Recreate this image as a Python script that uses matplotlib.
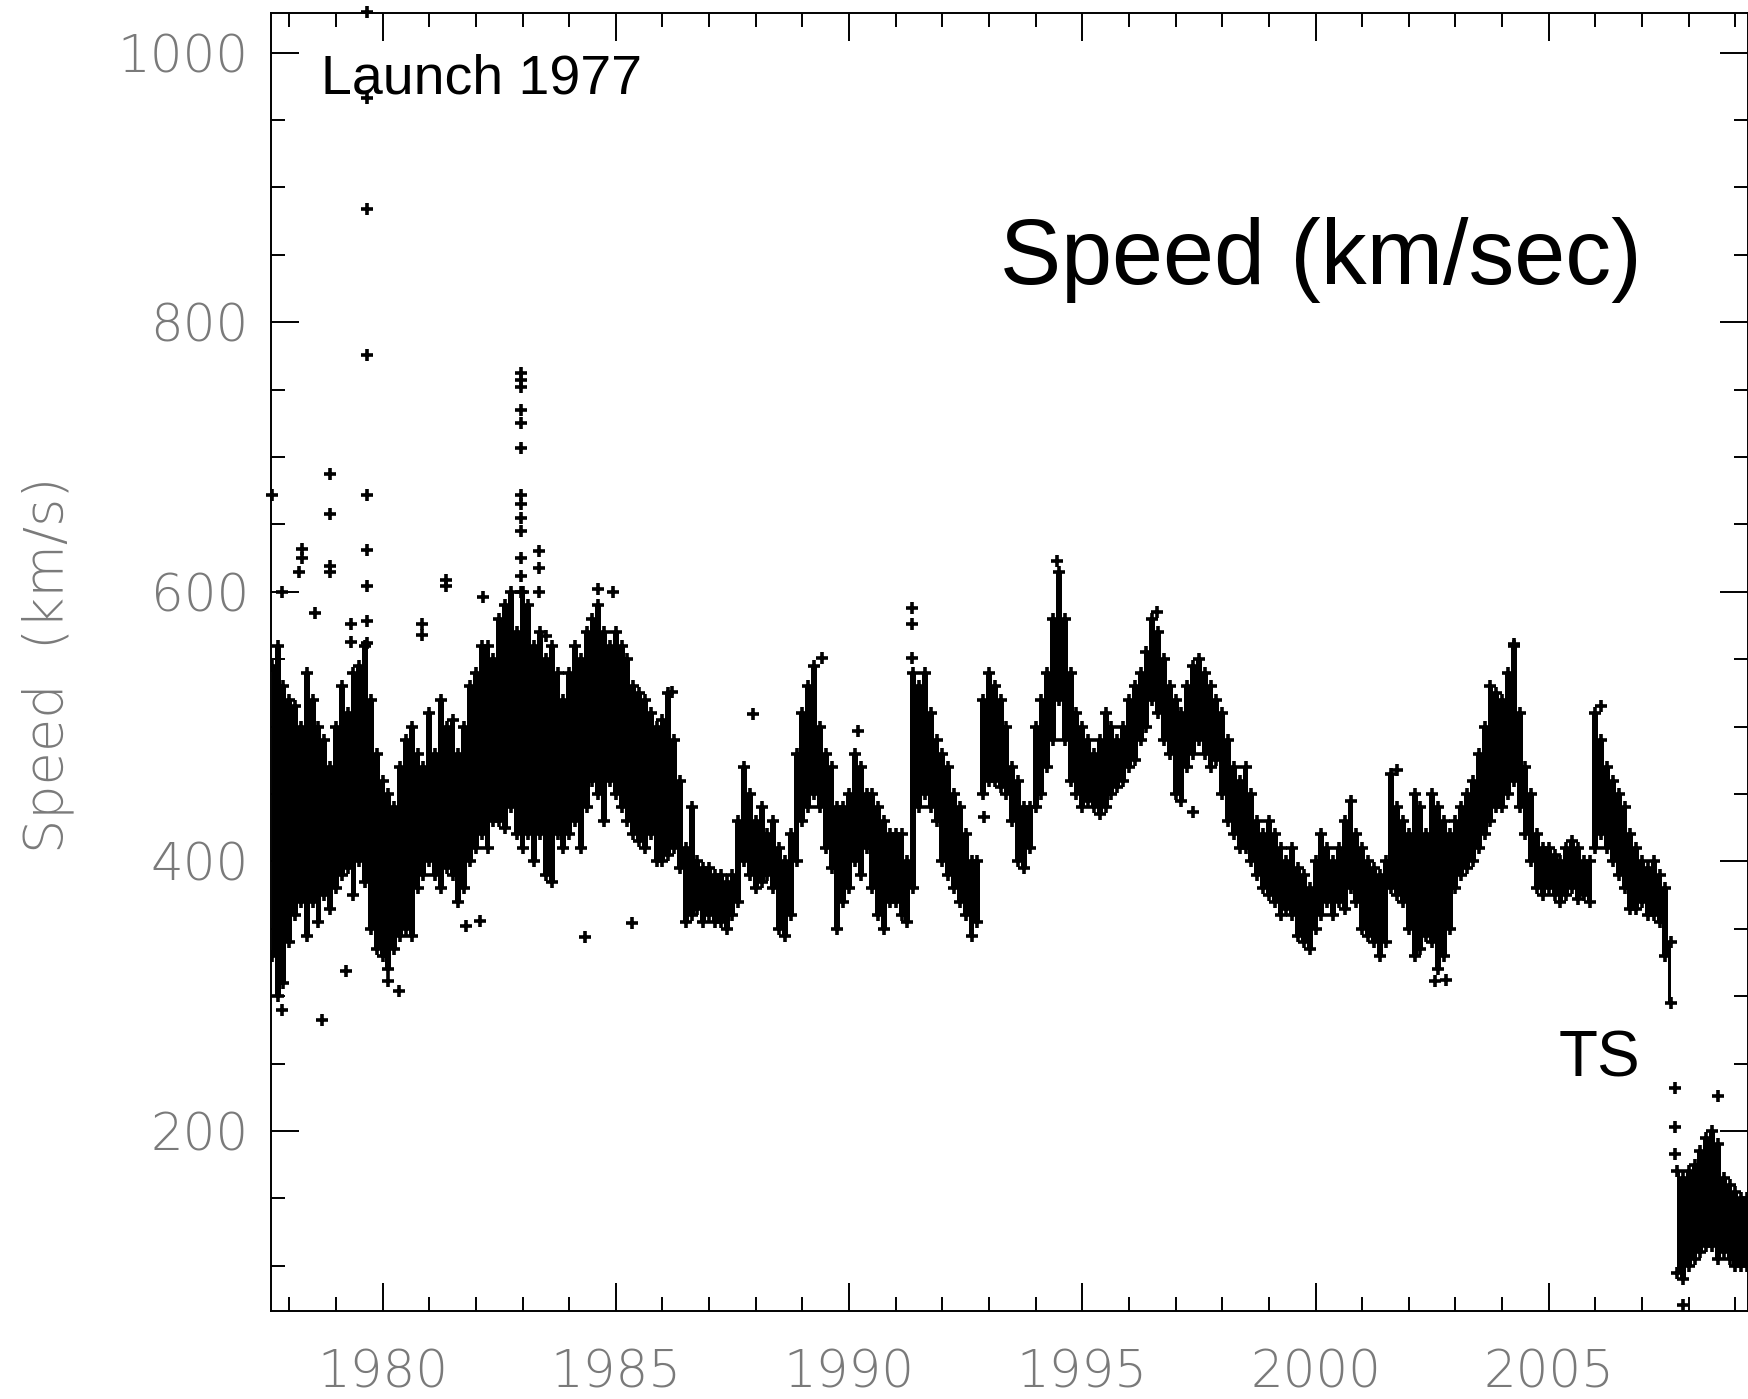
# plot.py
# Recreates the Voyager 2 solar wind speed chart (1977 to 2009) as a dense black band of plus marks.

# Import matplotlib for plotting without a display.
import matplotlib
matplotlib.use("Agg")
import matplotlib.pyplot as plt
from matplotlib.ticker import MultipleLocator

# Bin centres (years) of the speed band before the termination shock.
pre_years = [
    1977.625, 1977.75, 1977.875,
    1978.0, 1978.125, 1978.25, 1978.375, 1978.5, 1978.625, 1978.75, 1978.875,
    1979.0, 1979.125, 1979.25, 1979.375, 1979.5, 1979.625, 1979.75, 1979.875,
    1980.0, 1980.125, 1980.25, 1980.375, 1980.5, 1980.625, 1980.75, 1980.875,
    1981.0, 1981.125, 1981.25, 1981.375, 1981.5, 1981.625, 1981.75, 1981.875,
    1982.0, 1982.125, 1982.25, 1982.375, 1982.5, 1982.625, 1982.75, 1982.875,
    1983.0, 1983.125, 1983.25, 1983.375, 1983.5, 1983.625, 1983.75, 1983.875,
    1984.0, 1984.125, 1984.25, 1984.375, 1984.5, 1984.625, 1984.75, 1984.875,
    1985.0, 1985.125, 1985.25, 1985.375, 1985.5, 1985.625, 1985.75, 1985.875,
    1986.0, 1986.125, 1986.25, 1986.375, 1986.5, 1986.625, 1986.75, 1986.875,
    1987.0, 1987.125, 1987.25, 1987.375, 1987.5, 1987.625, 1987.75, 1987.875,
    1988.0, 1988.125, 1988.25, 1988.375, 1988.5, 1988.625, 1988.75, 1988.875,
    1989.0, 1989.125, 1989.25, 1989.375, 1989.5, 1989.625, 1989.75, 1989.875,
    1990.0, 1990.125, 1990.25, 1990.375, 1990.5, 1990.625, 1990.75, 1990.875,
    1991.0, 1991.125, 1991.25, 1991.375, 1991.5, 1991.625, 1991.75, 1991.875,
    1992.0, 1992.125, 1992.25, 1992.375, 1992.5, 1992.625, 1992.75, 1992.875,
    1993.0, 1993.125, 1993.25, 1993.375, 1993.5, 1993.625, 1993.75, 1993.875,
    1994.0, 1994.125, 1994.25, 1994.375, 1994.5, 1994.625, 1994.75, 1994.875,
    1995.0, 1995.125, 1995.25, 1995.375, 1995.5, 1995.625, 1995.75, 1995.875,
    1996.0, 1996.125, 1996.25, 1996.375, 1996.5, 1996.625, 1996.75, 1996.875,
    1997.0, 1997.125, 1997.25, 1997.375, 1997.5, 1997.625, 1997.75, 1997.875,
    1998.0, 1998.125, 1998.25, 1998.375, 1998.5, 1998.625, 1998.75, 1998.875,
    1999.0, 1999.125, 1999.25, 1999.375, 1999.5, 1999.625, 1999.75, 1999.875,
    2000.0, 2000.125, 2000.25, 2000.375, 2000.5, 2000.625, 2000.75, 2000.875,
    2001.0, 2001.125, 2001.25, 2001.375, 2001.5, 2001.625, 2001.75, 2001.875,
    2002.0, 2002.125, 2002.25, 2002.375, 2002.5, 2002.625, 2002.75, 2002.875,
    2003.0, 2003.125, 2003.25, 2003.375, 2003.5, 2003.625, 2003.75, 2003.875,
    2004.0, 2004.125, 2004.25, 2004.375, 2004.5, 2004.625, 2004.75, 2004.875,
    2005.0, 2005.125, 2005.25, 2005.375, 2005.5, 2005.625, 2005.75, 2005.875,
    2006.0, 2006.125, 2006.25, 2006.375, 2006.5, 2006.625, 2006.75, 2006.875,
    2007.0, 2007.125, 2007.25, 2007.375, 2007.5, 2007.625,
]

# Upper edge of the dense band (km/s) for each pre-shock bin.
pre_hi = [
    545, 560, 530,
    520, 515, 500, 540, 520, 500, 490, 470,
    500, 530, 510, 540, 545, 560, 520, 480,
    460, 450, 440, 470, 490, 500, 480, 470,
    510, 480, 520, 500, 505, 480, 500, 530,
    540, 560, 560, 550, 580, 590, 600, 570,
    600, 590, 560, 570, 550, 560, 540, 520,
    540, 560, 550, 570, 580, 590, 570, 560,
    570, 560, 550, 530, 525, 520, 510, 500,
    505, 525, 490, 460, 410, 440, 400, 395,
    395, 390, 390, 385, 390, 430, 470, 450,
    430, 440, 420, 430, 410, 400, 420, 480,
    510, 530, 545, 500, 480, 470, 440, 440,
    450, 480, 470, 450, 450, 440, 430, 420,
    420, 420, 400, 540, 530, 540, 510, 490,
    480, 470, 450, 440, 420, 400, 400, 520,
    540, 530, 520, 500, 470, 460, 440, 440,
    500, 520, 540, 580, 615, 580, 540, 510,
    500, 490, 480, 490, 510, 500, 490, 500,
    520, 530, 540, 555, 580, 570, 550, 530,
    520, 510, 530, 545, 550, 540, 530, 520,
    510, 490, 470, 460, 470, 450, 430, 420,
    430, 420, 410, 400, 410, 395, 390, 380,
    400, 420, 410, 400, 410, 430, 445, 420,
    410, 400, 395, 390, 400, 465, 440, 430,
    420, 450, 440, 420, 450, 440, 430, 420,
    430, 440, 450, 460, 480, 500, 530, 525,
    520, 540, 560, 510, 470, 450, 420, 410,
    410, 405, 400, 410, 415, 410, 400, 400,
    510, 490, 470, 460, 450, 440, 420, 410,
    400, 395, 400, 390, 380, 340,
]

# Lower edge of the dense band (km/s) for each pre-shock bin.
pre_lo = [
    330, 300, 310,
    340, 360, 370, 345, 370, 355, 375, 365,
    380, 390, 395, 375, 400, 385, 350, 335,
    330, 320, 335, 345, 350, 345, 380, 390,
    400, 390, 380, 395, 390, 370, 380, 400,
    410, 420, 410, 430, 430, 425, 440, 420,
    410, 420, 400, 420, 390, 385, 420, 410,
    420, 430, 410, 440, 460, 450, 430, 460,
    450, 440, 430, 420, 415, 410, 420, 400,
    400, 405, 410, 395, 355, 360, 365, 355,
    360, 355, 355, 350, 360, 370, 400, 390,
    380, 385, 390, 380, 350, 345, 360, 400,
    430, 440, 450, 440, 410, 395, 350, 370,
    380, 400, 390, 410, 380, 360, 350, 370,
    370, 360, 355, 380, 440, 450, 440, 430,
    400, 390, 380, 370, 360, 345, 355, 450,
    460, 460, 455, 450, 430, 400, 395, 410,
    440, 450, 470, 490, 520, 490, 460, 450,
    440, 445, 440, 435, 440, 450, 455, 460,
    470, 475, 490, 500, 520, 510, 490, 480,
    450, 445, 470, 480, 490, 480, 470, 475,
    450, 430, 420, 410, 410, 400, 390, 380,
    375, 370, 360, 365, 360, 345, 340, 335,
    350, 360, 370, 360, 370, 365, 380, 370,
    350, 345, 340, 330, 340, 380, 375, 370,
    350, 330, 335, 345, 340, 320, 330, 350,
    380, 390, 395, 400, 410, 420, 430, 440,
    440, 450, 460, 440, 420, 400, 380, 375,
    380, 375, 370, 375, 380, 372, 375, 370,
    410, 420, 410, 400, 390, 380, 365, 365,
    370, 360, 360, 355, 330, 295,
]

# Bin centres (years) of the band after the termination shock.
post_years = [2007.75, 2007.875, 2008.0, 2008.125, 2008.25, 2008.375, 2008.5,
              2008.625, 2008.75, 2008.875, 2009.0, 2009.125, 2009.25, 2009.375]

# Upper edge of the post-shock band (km/s).
post_hi = [170, 165, 170, 175, 185, 195, 200, 190, 165, 160, 155, 150, 150, 150]

# Lower edge of the post-shock band (km/s).
post_lo = [95, 90, 100, 105, 110, 115, 115, 105, 110, 105, 100, 100, 100, 100]

# Isolated plus marks outside the dense band: years.
out_years = [
    1977.63, 1977.85, 1977.85, 1978.2, 1978.27, 1978.27, 1978.56, 1978.71,
    1978.88, 1978.88, 1978.88, 1978.88, 1979.21, 1979.33, 1979.33,
    1979.67, 1979.67, 1979.67, 1979.67, 1979.67, 1979.67, 1979.67, 1979.67, 1979.67,
    1980.12, 1980.36, 1980.84, 1980.84, 1981.36, 1981.36, 1981.79, 1982.08, 1982.15,
    1982.96, 1982.96, 1982.96, 1982.96, 1982.96, 1982.96, 1982.96, 1982.96,
    1982.96, 1982.96, 1982.96, 1982.96, 1982.96,
    1983.35, 1983.35, 1983.35, 1983.5, 1984.35, 1984.61, 1984.95, 1985.35, 1986.21,
    1987.94, 1989.42, 1990.2, 1991.35, 1991.35, 1991.35, 1992.9, 1994.46, 1996.61,
    1997.38, 2001.75, 2002.56, 2002.8, 2003.83, 2004.26, 2006.13,
    2007.7, 2007.7, 2007.7, 2008.63, 2007.87,
]

# Isolated plus marks outside the dense band: speeds (km/s).
out_speeds = [
    672, 600, 290, 615, 632, 625, 584, 282,
    687, 658, 619, 615, 319, 576, 563,
    1030, 966, 884, 776, 672, 631, 604, 578, 562,
    311, 304, 576, 568, 609, 604, 352, 356, 596,
    762, 757, 752, 735, 725, 707, 672, 665,
    655, 645, 625, 612, 600,
    630, 618, 600, 567, 344, 602, 600, 354, 526,
    509, 551, 497, 588, 576, 551, 433, 623, 585,
    437, 468, 311, 312, 460, 561, 515,
    232, 203, 183, 226, 71,
]

# Tick values for both axes.
x_major = [1980, 1985, 1990, 1995, 2000, 2005]
y_major = [200, 400, 600, 800, 1000]

# Create the figure at the reference pixel size.
fig = plt.figure(figsize=(17.49, 13.99), dpi=100)

# Place the axes so the right spine sits on the image edge.
ax = fig.add_axes([0.155, 0.0632, 0.8444, 0.9272])

# Draw the dense pre-shock band as a solid mass.
ax.fill_between(pre_years, pre_lo, pre_hi, step="mid", color="black", linewidth=0)

# Draw the dense post-shock band.
ax.fill_between(post_years, post_lo, post_hi, step="mid", color="black", linewidth=0)

# Plus marks along the band edges give the ragged scatter look.
for xs, ys in [(pre_years, pre_hi), (pre_years, pre_lo), (post_years, post_hi), (post_years, post_lo)]:
    # Plot the edge marks.
    ax.plot(xs, ys, linestyle="none", marker="+", markersize=8, markeredgewidth=2.6, color="black")

# Plot the isolated outliers.
ax.plot(out_years, out_speeds, linestyle="none", marker="+", markersize=8,
        markeredgewidth=2.6, color="black", clip_on=False)

# Set the data limits.
ax.set_xlim(1977.61, 2009.27)
ax.set_ylim(66.8, 1029)

# Major and minor tick positions.
ax.set_xticks(x_major)
ax.set_yticks(y_major)
ax.xaxis.set_minor_locator(MultipleLocator(1))
ax.yaxis.set_minor_locator(MultipleLocator(50))

# Inward ticks on all four sides.
ax.tick_params(which="both", direction="in", top=True, right=True, width=1.4, colors="black")
ax.tick_params(which="major", length=20)
ax.tick_params(which="minor", length=10)
ax.tick_params(axis="x", which="major", pad=27)
ax.tick_params(axis="y", which="major", pad=16)

# Tick label font: thin grey sans with wide digits.
tick_font = dict(family=["DejaVu Sans"], weight=200, size=37, color="#7a7a7a")
ax.set_xticklabels([str(v) for v in x_major], **tick_font)
ax.set_yticklabels([str(v) for v in y_major], **tick_font)

# Spine thickness.
for sp in ax.spines.values():
    # Set the frame line width.
    sp.set_linewidth(1.4)

# Vertical axis title in grey.
fig.text(0.0275, 0.525, "Speed  (km/s)", rotation=90, ha="center", va="center",
         family=["DejaVu Sans"], weight=200, size=39, color="#7a7a7a")

# Annotations in the plot area.
ax.text(0.0339, 0.9386, "Launch 1977", transform=ax.transAxes, va="baseline",
        family=["Liberation Sans", "DejaVu Sans"], size=40, color="black")
ax.text(0.4936, 0.7914, "Speed (km/sec)", transform=ax.transAxes, va="baseline",
        family=["Liberation Sans", "DejaVu Sans"], size=66, color="black")
ax.text(0.872, 0.1808, "TS", transform=ax.transAxes, va="baseline",
        family=["Liberation Sans", "DejaVu Sans"], size=46, color="black")

# Save the figure.
fig.savefig("out.png", dpi=100)
